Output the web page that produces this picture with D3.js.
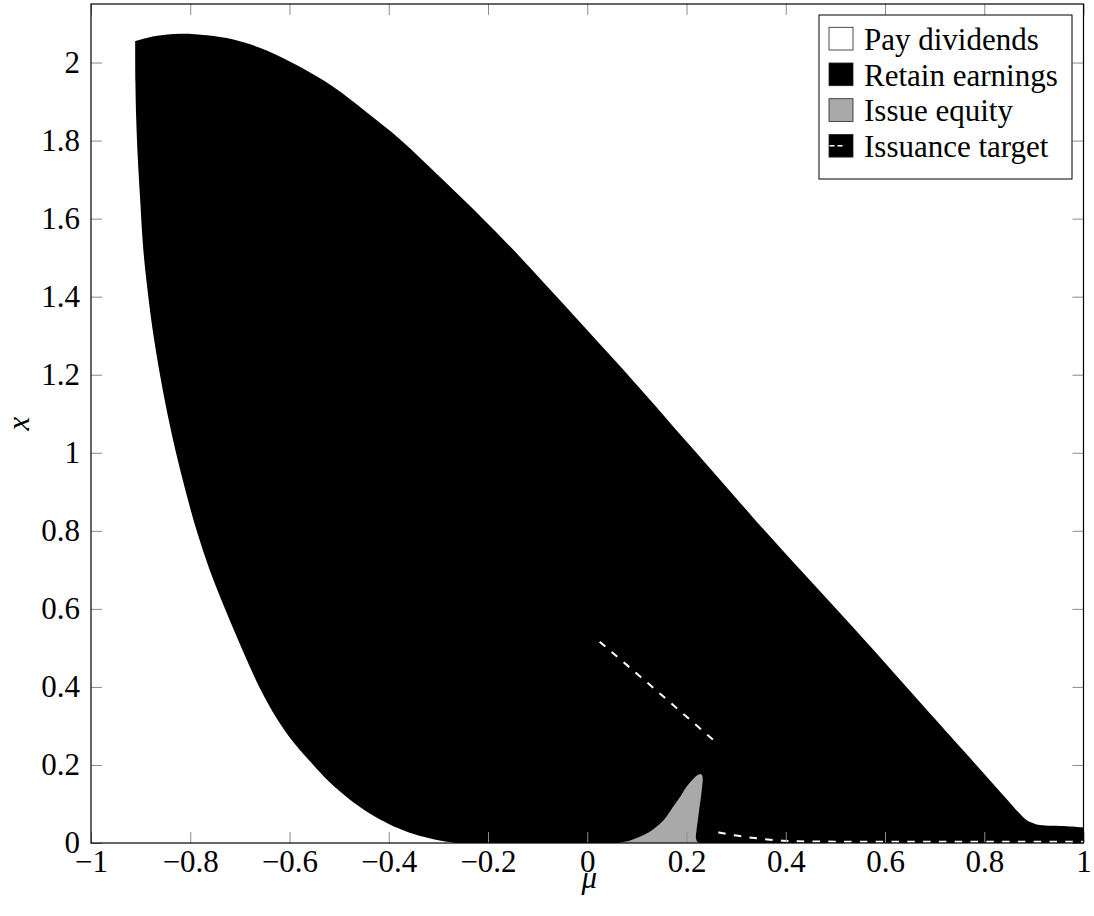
<!DOCTYPE html>
<html>
<head>
<meta charset="utf-8">
<script src="https://d3js.org/d3.v7.min.js"></script>
<style>
body { margin: 0; background: #fff; }
svg text { font-family: "Liberation Serif", "DejaVu Serif", serif; fill: #000; }
.tick line { stroke: #8a8a8a; stroke-width: 1; }
.tick text { font-size: 31px; }
</style>
</head>
<body>
<svg id="chart"></svg>
<script>
// upper edge of the "retain earnings" region, left to right
var retainTopMu = [-0.911, -0.87, -0.821, -0.766, -0.713, -0.646, -0.579, -0.512, -0.444, -0.377, -0.283, -0.216, -0.149, -0.082, -0.015, 0.053, 0.125, 0.19, 0.26, 0.33, 0.402, 0.536, 0.671, 0.75, 0.805, 0.845, 0.868, 0.885, 0.9, 0.912, 0.966, 1.0];
var retainTopX  = [2.055, 2.068, 2.074, 2.07, 2.059, 2.031, 1.989, 1.938, 1.872, 1.803, 1.69, 1.607, 1.52, 1.428, 1.335, 1.24, 1.138, 1.043, 0.942, 0.84, 0.738, 0.552, 0.36, 0.248, 0.17, 0.113, 0.08, 0.059, 0.05, 0.046, 0.043, 0.04];
// left / lower edge, top to bottom
var retainLeftMu = [-0.911, -0.9105, -0.909, -0.9055, -0.901, -0.8945, -0.8845, -0.874, -0.861, -0.846, -0.8287, -0.809, -0.787, -0.761, -0.73, -0.695, -0.661, -0.625, -0.59, -0.552, -0.52, -0.48, -0.44, -0.4, -0.377, -0.34, -0.3, -0.263];
var retainLeftX  = [2.055, 1.95, 1.86, 1.75, 1.65, 1.519, 1.4, 1.3, 1.2, 1.1, 1.0, 0.9, 0.8, 0.7, 0.6, 0.495, 0.4, 0.318, 0.255, 0.2, 0.157, 0.113, 0.077, 0.049, 0.036, 0.019, 0.007, 0.0];

// "issue equity" region outline
var issueMu = [0.059, 0.085, 0.106, 0.125, 0.14, 0.158, 0.173, 0.188, 0.2, 0.212, 0.221, 0.228, 0.232, 0.23, 0.226, 0.223, 0.22, 0.219, 0.222, 0.228];
var issueX  = [0, 0.006, 0.016, 0.028, 0.042, 0.065, 0.093, 0.12, 0.144, 0.162, 0.173, 0.177, 0.172, 0.127, 0.09, 0.06, 0.03, 0.012, 0.003, 0];

// issuance target (two pieces)
var target1Mu = [0.025, 0.14, 0.254];
var target1X  = [0.516, 0.39, 0.264];
var target2Mu = [0.264, 0.301, 0.331, 0.363, 0.393, 0.425, 0.5, 1.0];
var target2X  = [0.027, 0.019, 0.0137, 0.009, 0.006, 0.0043, 0.0035, 0.0035];

var xTicks = [-1, -0.8, -0.6, -0.4, -0.2, 0, 0.2, 0.4, 0.6, 0.8, 1];
var xTickLabels = ["\u22121", "\u22120.8", "\u22120.6", "\u22120.4", "\u22120.2", "0", "0.2", "0.4", "0.6", "0.8", "1"];
var yTicks = [0, 0.2, 0.4, 0.6, 0.8, 1, 1.2, 1.4, 1.6, 1.8, 2];
var yTickLabels = ["0", "0.2", "0.4", "0.6", "0.8", "1", "1.2", "1.4", "1.6", "1.8", "2"];

var legendLabels = ["Pay dividends", "Retain earnings", "Issue equity", "Issuance target"];
var legendFills = ["#ffffff", "#000000", "#a9a9a9", "#000000"];

var FONT = '"Liberation Serif", "DejaVu Serif", serif';

var W = 1094, H = 916;
var margin = {top: 4, right: 10.5, bottom: 73, left: 91};
var w = W - margin.left - margin.right;
var h = H - margin.top - margin.bottom;

var svg = d3.select("#chart").attr("width", W).attr("height", H);
var g = svg.append("g").attr("transform", "translate(" + margin.left + "," + margin.top + ")");

var x = d3.scaleLinear().domain([-1, 1]).range([0, w]);
var y = d3.scaleLinear().domain([0, 2.15]).range([h, 0]);

var line = d3.line().x(function(d) { return x(d[0]); }).y(function(d) { return y(d[1]); });
var smooth = d3.line().x(function(d) { return x(d[0]); }).y(function(d) { return y(d[1]); })
  .curve(d3.curveCatmullRom.alpha(0.5));

function pairs(ms, xs) { return ms.map(function(m, i) { return [m, xs[i]]; }); }

// black region: smooth top edge, straight down the right side and along the axis, smooth left edge back up
var topPts = pairs(retainTopMu, retainTopX);
var leftPts = pairs(retainLeftMu, retainLeftX).reverse();
var retainPath = smooth(topPts) +
  "L" + x(1) + "," + y(0) +
  "L" + x(leftPts[0][0]) + "," + y(leftPts[0][1]) +
  smooth(leftPts).replace(/^M[^CL]*/, "") + "Z";

g.append("path").attr("d", retainPath).attr("fill", "#000");

g.append("path")
  .attr("d", smooth(pairs(issueMu, issueX)) + "Z")
  .attr("fill", "#a9a9a9");

[[target1Mu, target1X], [target2Mu, target2X]].forEach(function(s) {
  g.append("path")
    .attr("d", line.curve(d3.curveMonotoneX)(pairs(s[0], s[1])))
    .attr("fill", "none")
    .attr("stroke", "#fff")
    .attr("stroke-width", 2)
    .attr("stroke-dasharray", "7.5 8.3");
});

// axes, ticks inside on all four sides
g.append("g").attr("transform", "translate(0," + h + ")")
  .call(d3.axisBottom(x).tickValues(xTicks).tickSize(-11).tickPadding(7)
    .tickFormat(function(d, i) { return xTickLabels[i]; }))
  .call(function(a) { a.select(".domain").remove(); });
g.append("g")
  .call(d3.axisTop(x).tickValues(xTicks).tickSize(-11).tickFormat(""))
  .call(function(a) { a.select(".domain").remove(); });
g.append("g")
  .call(d3.axisLeft(y).tickValues(yTicks).tickSize(-11).tickPadding(11)
    .tickFormat(function(d, i) { return yTickLabels[i]; }))
  .call(function(a) { a.select(".domain").remove(); });
g.append("g").attr("transform", "translate(" + w + ",0)")
  .call(d3.axisRight(y).tickValues(yTicks).tickSize(-11).tickFormat(""))
  .call(function(a) { a.select(".domain").remove(); });

svg.selectAll("g").attr("font-family", null);
svg.selectAll(".tick text").style("font-family", FONT).style("font-size", "31px");

g.append("rect")
  .attr("width", w).attr("height", h)
  .attr("fill", "none").attr("stroke", "#000").attr("stroke-width", 1.2);

// axis titles
svg.append("text")
  .attr("x", margin.left + x(0) + 2).attr("y", 888)
  .attr("text-anchor", "middle")
  .style("font-family", FONT).style("font-style", "italic").style("font-size", "31px")
  .text("\u03bc");
svg.append("text")
  .attr("transform", "translate(29," + (margin.top + y(1.075)) + ") rotate(-90)")
  .attr("text-anchor", "middle")
  .style("font-family", FONT).style("font-style", "italic").style("font-size", "31px")
  .text("x");

// legend
var lg = svg.append("g").attr("transform", "translate(819,15)");
lg.append("rect").attr("width", 253).attr("height", 164)
  .attr("fill", "#fff").attr("stroke", "#000").attr("stroke-width", 1);
var items = lg.selectAll("g.item").data(legendLabels).enter().append("g")
  .attr("class", "item")
  .attr("transform", function(d, i) { return "translate(10," + (12.3 + i * 35.7) + ")"; });
items.append("rect")
  .attr("width", 24).attr("height", 22.7)
  .attr("fill", function(d, i) { return legendFills[i]; })
  .attr("stroke", "#222").attr("stroke-width", 0.8);
items.filter(function(d, i) { return i === 3; }).append("line")
  .attr("x1", 0.5).attr("x2", 15).attr("y1", 11.3).attr("y2", 11.3)
  .attr("stroke", "#fff").attr("stroke-width", 1.5)
  .attr("stroke-dasharray", "5 3");
items.append("text")
  .attr("x", 35).attr("y", 22.7)
  .style("font-family", FONT).style("font-size", "31px")
  .text(function(d) { return d; });
</script>
</body>
</html>
